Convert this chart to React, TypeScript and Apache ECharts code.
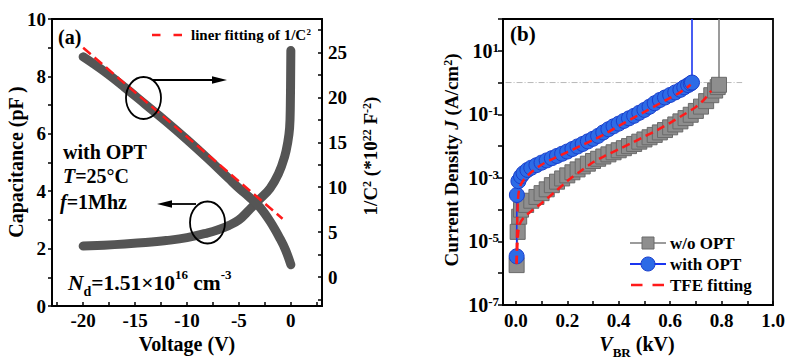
import React, { useEffect, useRef } from "react";
import * as echarts from "echarts";

// ---------- Panel (a): C-V and 1/C^2-V ----------
const capVoltage = [-20, -18, -16, -14, -12, -10, -8, -7, -6, -5, -4, -3, -2, -1.2, -0.6, -0.3, -0.12, -0.05, 0];
const capacitance = [2.09, 2.12, 2.16, 2.21, 2.28, 2.38, 2.55, 2.66, 2.8, 3.0, 3.35, 3.72, 4.1, 4.6, 5.2, 5.7, 6.2, 7.0, 8.9];
const invVoltage = [-20, -18, -16, -14, -12, -10, -8, -6, -5, -4, -3, -2, -1, -0.5, 0];
const invC2 = [24.5, 22.9, 21.1, 19.2, 17.3, 15.3, 13.2, 11.0, 9.9, 8.9, 7.8, 6.2, 4.2, 3.0, 1.4];
const fitVoltage = [-20, -0.8];
const fitInvC2 = [25.5, 6.5];
const voltageTicks = [-20, -15, -10, -5, 0];
const voltageMinor = [-22.5, -20, -17.5, -15, -12.5, -10, -7.5, -5, -2.5, 0, 2.5];
const capTicks = [0, 2, 4, 6, 8, 10];
const capMinor = [0, 1, 2, 3, 4, 5, 6, 7, 8, 9, 10];
const invTicks = [0, 5, 10, 15, 20, 25];
const invMinor = [-2.5, 0, 2.5, 5, 7.5, 10, 12.5, 15, 17.5, 20, 22.5, 25, 27.5];

// ---------- Panel (b): J-V ----------
const woV = [0.003, 0.007, 0.013, 0.02, 0.04, 0.06, 0.08, 0.10, 0.12, 0.14, 0.16, 0.18, 0.20, 0.22, 0.24, 0.26, 0.28, 0.30, 0.32, 0.34, 0.36, 0.38, 0.40, 0.42, 0.44, 0.46, 0.48, 0.50, 0.52, 0.54, 0.56, 0.58, 0.60, 0.62, 0.64, 0.66, 0.68, 0.70, 0.72, 0.74, 0.76, 0.775, 0.785, 0.79];
const woJ = [1.8e-6, 2.0e-5, 6.0e-5, 1.0e-4, 1.41e-4, 1.91e-4, 2.51e-4, 3.31e-4, 4.37e-4, 5.9e-4, 7.6e-4, 9.6e-4, 1.2e-3, 1.5e-3, 1.85e-3, 2.3e-3, 2.8e-3, 3.4e-3, 4.0e-3, 4.7e-3, 5.5e-3, 6.4e-3, 7.4e-3, 8.6e-3, 1.0e-2, 1.17e-2, 1.38e-2, 1.62e-2, 1.9e-2, 2.25e-2, 2.7e-2, 3.2e-2, 3.9e-2, 4.8e-2, 6.0e-2, 7.6e-2, 9.7e-2, 0.128, 0.175, 0.26, 0.40, 0.56, 0.72, 0.85];
const woBreakV = 0.79;

const withV = [0.003, 0.004, 0.01, 0.02, 0.03, 0.045, 0.06, 0.08, 0.10, 0.12, 0.14, 0.16, 0.18, 0.20, 0.22, 0.24, 0.26, 0.28, 0.30, 0.32, 0.34, 0.36, 0.38, 0.40, 0.42, 0.44, 0.46, 0.48, 0.50, 0.52, 0.54, 0.56, 0.58, 0.60, 0.62, 0.64, 0.655, 0.67, 0.68, 0.685];
const withJ = [3.4e-6, 2.9e-4, 7.9e-4, 1.12e-3, 1.41e-3, 1.78e-3, 2.09e-3, 2.51e-3, 3.02e-3, 3.55e-3, 4.17e-3, 4.9e-3, 5.75e-3, 6.76e-3, 8.13e-3, 9.77e-3, 1.17e-2, 1.41e-2, 1.7e-2, 2.1e-2, 2.7e-2, 3.4e-2, 4.2e-2, 5.1e-2, 6.2e-2, 7.5e-2, 9.0e-2, 0.112, 0.138, 0.174, 0.224, 0.282, 0.339, 0.407, 0.49, 0.589, 0.708, 0.832, 0.933, 1.0];
const withBreakV = 0.685;

const woFitV = [0.003, 0.008, 0.015, 0.03, 0.06, 0.1, 0.15, 0.2, 0.25, 0.3, 0.35, 0.4, 0.45, 0.5, 0.55, 0.6, 0.65, 0.7, 0.73, 0.76];
const woFitJ = [2.0e-6, 1.5e-5, 3.5e-5, 5.5e-5, 9.0e-5, 1.6e-4, 3.5e-4, 8.0e-4, 1.6e-3, 3.1e-3, 5.1e-3, 8.0e-3, 1.25e-2, 2.0e-2, 3.2e-2, 5.4e-2, 9.5e-2, 0.17, 0.28, 0.55];
const withFitV = [0.003, 0.005, 0.008, 0.015, 0.03, 0.06, 0.1, 0.15, 0.2, 0.25, 0.3, 0.35, 0.4, 0.45, 0.5, 0.55, 0.6, 0.64, 0.68];
const withFitJ = [2.0e-6, 3.0e-5, 2.0e-4, 5.0e-4, 8.5e-4, 1.5e-3, 2.6e-3, 4.2e-3, 6.5e-3, 1.0e-2, 1.55e-2, 2.5e-2, 4.3e-2, 7.2e-2, 0.12, 0.2, 0.33, 0.5, 0.85];

const refLineV = [-0.04, 0.88];
const refLineJ = [1, 1];
const vbrTicks = [0, 0.2, 0.4, 0.6, 0.8, 1.0];
const vbrMinor = [0, 0.1, 0.2, 0.3, 0.4, 0.5, 0.6, 0.7, 0.8, 0.9, 1.0];

const serif = "Liberation Serif";

const zip = (xs: number[], ys: number[]) => xs.map((x, i) => [x, ys[i]]);

const richFor = (size: number) => ({
  sup: { fontFamily: serif, fontWeight: "bold", fontSize: Math.round(size * 0.62), fill: "#000", color: "#000", verticalAlign: "top" },
  sub: { fontFamily: serif, fontWeight: "bold", fontSize: Math.round(size * 0.66), fill: "#000", color: "#000", verticalAlign: "bottom", lineHeight: Math.round(size * 1.45) },
  i: { fontFamily: serif, fontWeight: "bold", fontStyle: "italic", fontSize: size, fill: "#000", color: "#000" },
});

const txt = (x: number, y: number, text: string, size: number, align = "left", rot = 0) => ({
  type: "text",
  x,
  y,
  rotation: rot,
  z: 100,
  style: {
    text,
    fontFamily: serif,
    fontWeight: "bold",
    fontSize: size,
    fill: "#000",
    align,
    textAlign: align,
    verticalAlign: "middle",
    textVerticalAlign: "middle",
    rich: richFor(size),
  },
});

const axisLine = { show: true, onZero: false, lineStyle: { color: "#000", width: 1.8 } };
const tickStyle = { color: "#000", width: 1.5 };
const labelBase = { fontFamily: serif, fontWeight: "bold", color: "#000", fontSize: 19 };

export default function App() {
  const ref = useRef<HTMLDivElement>(null);
  useEffect(() => {
    if (!ref.current) return;
    const chart = echarts.init(ref.current, undefined, { renderer: "svg" });
    const option: any = {
      animation: false,
      backgroundColor: "#fff",
      textStyle: { fontFamily: serif },
      grid: [
        { left: 52, top: 19, width: 270, height: 287, show: true, borderColor: "#000", borderWidth: 1.8, backgroundColor: "transparent" },
        { left: 503, top: 19, width: 270, height: 286, show: true, borderColor: "#000", borderWidth: 1.8, backgroundColor: "transparent" },
      ],
      xAxis: [
        {
          type: "value", gridIndex: 0, min: -23, max: 3,
          axisLine,
          axisTick: { show: true, inside: true, length: 4, customValues: voltageMinor, lineStyle: tickStyle },
          axisLabel: { ...labelBase, customValues: voltageTicks, margin: 5 },
          splitLine: { show: false },
        },
        {
          type: "value", gridIndex: 1, min: -0.05, max: 1.0,
          axisLine,
          axisTick: { show: true, inside: true, length: 4, customValues: vbrMinor, lineStyle: tickStyle },
          axisLabel: { ...labelBase, customValues: vbrTicks, margin: 6, formatter: (v: number) => v.toFixed(1) },
          splitLine: { show: false },
        },
      ],
      yAxis: [
        {
          type: "value", gridIndex: 0, min: 0, max: 10, position: "left",
          axisLine,
          axisTick: { show: true, inside: false, length: 4, customValues: capMinor, lineStyle: tickStyle },
          axisLabel: { ...labelBase, customValues: capTicks, margin: 6 },
          splitLine: { show: false },
        },
        {
          type: "value", gridIndex: 0, min: -3.2, max: 28.7, position: "right",
          axisLine,
          axisTick: { show: true, inside: true, length: 4, customValues: invMinor, lineStyle: tickStyle },
          axisLabel: { ...labelBase, fontSize: 19, customValues: invTicks, margin: 6 },
          splitLine: { show: false },
        },
        {
          type: "log", gridIndex: 1, min: 1e-7, max: 1e2, logBase: 10, splitNumber: 9, position: "left",
          axisLine,
          axisTick: { show: true, inside: false, length: 5, lineStyle: tickStyle },
          axisLabel: {
            ...labelBase,
            fontSize: 20,
            margin: 4,
            formatter: (v: number) => {
              const e = Math.round(Math.log10(v));
              if (Math.abs(e) % 2 !== 1) return "";
              return `10{sup|${e}}`;
            },
            rich: {
              sup: { fontFamily: serif, fontWeight: "bold", color: "#000", fontSize: 13, verticalAlign: "top" },
            },
          },
          splitLine: { show: false },
        },
      ],
      series: [
        {
          type: "line", name: "C", xAxisIndex: 0, yAxisIndex: 0,
          data: zip(capVoltage, capacitance),
          symbol: "none", smooth: 0.4,
          lineStyle: { color: "#555555", width: 9, cap: "round", join: "round" },
          z: 2,
        },
        {
          type: "line", name: "invC2", xAxisIndex: 0, yAxisIndex: 1,
          data: zip(invVoltage, invC2),
          symbol: "none", smooth: 0.4,
          lineStyle: { color: "#555555", width: 9, cap: "round", join: "round" },
          z: 2,
        },
        {
          type: "line", name: "liner fitting of 1/C2", xAxisIndex: 0, yAxisIndex: 1,
          data: zip(fitVoltage, fitInvC2),
          symbol: "none",
          lineStyle: { color: "#ff1a1a", width: 2.5, type: [10, 5] },
          z: 4,
        },
        {
          type: "line", name: "ref", xAxisIndex: 1, yAxisIndex: 2,
          data: zip(refLineV, refLineJ),
          symbol: "none", silent: true,
          lineStyle: { color: "#b8b8b8", width: 1, type: [6, 2, 1, 2] },
          z: 1,
        },
        {
          type: "line", name: "w/o OPT", xAxisIndex: 1, yAxisIndex: 2,
          data: [...zip(woV, woJ), { value: [woBreakV, 100], symbol: "none" }],
          symbol: "rect", symbolSize: 15,
          itemStyle: { color: "#8e8e8e", borderColor: "#6a6a6a", borderWidth: 1 },
          lineStyle: { color: "#7a7a7a", width: 1.5 },
          z: 2,
        },
        {
          type: "line", name: "with OPT", xAxisIndex: 1, yAxisIndex: 2,
          data: [...zip(withV, withJ), { value: [withBreakV, 100], symbol: "none" }],
          symbol: "circle", symbolSize: 15,
          itemStyle: { color: "#2d6be6", borderColor: "#1b3fcc", borderWidth: 1 },
          lineStyle: { color: "#1a35f0", width: 1.6 },
          z: 3,
        },
        {
          type: "line", name: "TFE fitting", xAxisIndex: 1, yAxisIndex: 2,
          data: zip(woFitV, woFitJ),
          symbol: "none", smooth: 0.3,
          lineStyle: { color: "#ff1a1a", width: 2.5, type: [8, 5] },
          z: 5,
        },
        {
          type: "line", name: "TFE fitting", xAxisIndex: 1, yAxisIndex: 2,
          data: zip(withFitV, withFitJ),
          symbol: "none", smooth: 0.3,
          lineStyle: { color: "#ff1a1a", width: 2.5, type: [8, 5] },
          z: 5,
        },
      ],
      graphic: [
        // panel (a) annotations
        txt(58, 37, "(a)", 20),
        { type: "line", z: 100, shape: { x1: 152, y1: 35, x2: 182, y2: 35 }, style: { stroke: "#ff1a1a", lineWidth: 2.5, lineDash: [8.5, 13] } },
        txt(191, 35, "liner fitting of 1/C{sup|2}", 15),
        txt(63, 152, "with OPT", 20),
        txt(63, 176, "{i|T}=25°C", 20),
        txt(60, 202, "{i|f}=1Mhz", 20),
        txt(68, 283, "{i|N}{sub|d}=1.51×10{sup|16} cm{sup|-3}", 21.5),
        { type: "ellipse", z: 100, shape: { cx: 143.5, cy: 98, rx: 17.5, ry: 21 }, style: { fill: "none", stroke: "#000", lineWidth: 1.8 } },
        { type: "line", z: 100, shape: { x1: 153, y1: 80, x2: 214, y2: 80 }, style: { stroke: "#000", lineWidth: 1.8 } },
        { type: "polygon", z: 100, shape: { points: [[227, 80], [212, 76.3], [212, 83.7]] }, style: { fill: "#000" } },
        { type: "ellipse", z: 100, shape: { cx: 207.5, cy: 222.5, rx: 17.5, ry: 21 }, style: { fill: "none", stroke: "#000", lineWidth: 1.8 } },
        { type: "line", z: 100, shape: { x1: 196, y1: 204, x2: 170, y2: 204 }, style: { stroke: "#000", lineWidth: 1.8 } },
        { type: "polygon", z: 100, shape: { points: [[157, 204], [172, 200.3], [172, 207.7]] }, style: { fill: "#000" } },
        // panel (a) axis titles
        txt(16, 162, "Capacitance (pF )", 20, "center", Math.PI / 2),
        txt(187, 344, "Voltage (V)", 20, "center"),
        txt(370, 156, "1/C{sup|2} (*10{sup|22} F{sup|-2})", 19, "center", Math.PI / 2),
        // panel (b)
        txt(510, 34, "(b)", 21),
        txt(451, 160, "Current Density {i|J} (A/cm{sup|2})", 19, "center", Math.PI / 2),
        txt(637, 344, "{i|V}{sub|BR} (kV)", 20, "center"),
        // panel (b) legend
        { type: "line", z: 100, shape: { x1: 630, y1: 243, x2: 666, y2: 243 }, style: { stroke: "#7a7a7a", lineWidth: 1.6 } },
        { type: "rect", z: 101, shape: { x: 642, y: 237, width: 12, height: 12 }, style: { fill: "#8e8e8e", stroke: "#6a6a6a", lineWidth: 1 } },
        txt(670, 243, "w/o OPT", 17),
        { type: "line", z: 100, shape: { x1: 630, y1: 264, x2: 666, y2: 264 }, style: { stroke: "#1a35f0", lineWidth: 1.8 } },
        { type: "circle", z: 101, shape: { cx: 648, cy: 264, r: 7 }, style: { fill: "#2d6be6", stroke: "#1b3fcc", lineWidth: 1 } },
        txt(670, 264, "with OPT", 17),
        { type: "line", z: 100, shape: { x1: 631, y1: 285, x2: 665, y2: 285 }, style: { stroke: "#ff1a1a", lineWidth: 2.5, lineDash: [11.5, 10] } },
        txt(670, 285, "TFE fitting", 17),
      ],
    };
    chart.setOption(option);
    return () => chart.dispose();
  }, []);
  return (
    <div
      ref={ref}
      style={{ position: "absolute", left: 0, top: 0, width: 792, height: 362, background: "#fff" }}
    />
  );
}
